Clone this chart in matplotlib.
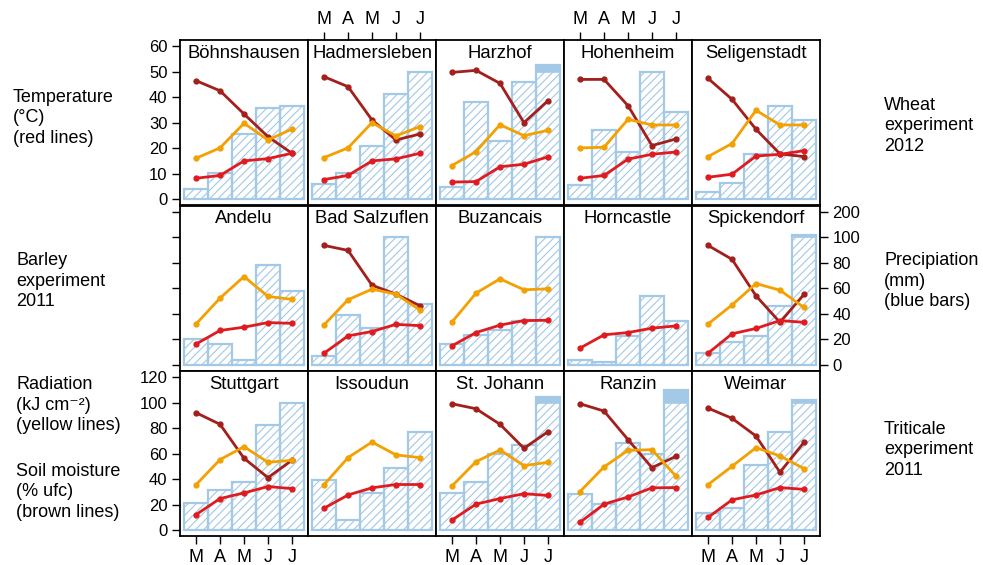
import numpy as np
import matplotlib
matplotlib.use("Agg")
import matplotlib.pyplot as plt

plt.rcParams['font.family'] = ['Liberation Sans', 'DejaVu Sans']
plt.rcParams['hatch.linewidth'] = 0.8

months = ["M", "A", "M", "J", "J"]
x = [1, 2, 3, 4, 5]

rows = [["Böhnshausen", "Hadmersleben", "Harzhof", "Hohenheim", "Seligenstadt"],
        ["Andelu", "Bad Salzuflen", "Buzancais", "Horncastle", "Spickendorf"],
        ["Stuttgart", "Issoudun", "St. Johann", "Ranzin", "Weimar"]]

# precipitation (mm), values above 100 are drawn on the compressed part of the axis
precip = {
    "Böhnshausen": [8.3, 20.9, 51.4, 71.7, 73.0],
    "Hadmersleben": [11.7, 20.3, 42.0, 82.2, 100.0],
    "Harzhof": [9.9, 75.9, 45.4, 91.8, 125.0],
    "Hohenheim": [11.2, 54.3, 36.8, 100.0, 68.1],
    "Seligenstadt": [6.0, 12.3, 35.5, 73.3, 62.1],
    "Andelu": [20.0, 16.1, 3.4, 78.4, 57.4],
    "Bad Salzuflen": [7.0, 38.7, 29.1, 100.5, 47.3],
    "Buzancais": [16.1, 23.4, 27.3, 34.3, 101.0],
    "Horncastle": [3.9, 2.1, 22.6, 54.0, 34.3],
    "Spickendorf": [9.1, 17.7, 22.1, 46.0, 109.0],
    "Stuttgart": [21.4, 31.8, 38.1, 82.4, 100.5],
    "Issoudun": [39.1, 8.1, 29.5, 49.0, 77.2],
    "St. Johann": [29.5, 38.1, 60.0, 66.5, 123.0],
    "Ranzin": [28.7, 20.3, 68.6, 60.0, 148.0],
    "Weimar": [13.8, 17.7, 50.9, 77.0, 112.0],
}

# temperature (deg C)
temp = {
    "Böhnshausen": [8.2, 9.3, 15.0, 15.9, 18.0],
    "Hadmersleben": [7.7, 9.3, 15.0, 15.8, 18.0],
    "Harzhof": [6.7, 6.9, 12.7, 13.7, 16.6],
    "Hohenheim": [8.2, 9.3, 15.7, 17.6, 18.5],
    "Seligenstadt": [8.6, 9.8, 16.9, 17.6, 19.0],
    "Andelu": [8.1, 13.4, 14.7, 16.5, 16.2],
    "Bad Salzuflen": [4.5, 11.3, 13.0, 15.8, 15.3],
    "Buzancais": [7.4, 12.6, 15.5, 17.3, 17.4],
    "Horncastle": [6.5, 11.7, 12.6, 14.3, 15.2],
    "Spickendorf": [4.5, 12.1, 14.2, 17.3, 16.6],
    "Stuttgart": [6.1, 12.4, 14.6, 17.1, 16.3],
    "Issoudun": [8.6, 13.8, 16.6, 17.9, 17.9],
    "St. Johann": [4.0, 10.2, 12.4, 14.3, 13.6],
    "Ranzin": [3.1, 10.2, 13.0, 16.6, 16.7],
    "Weimar": [5.0, 11.9, 13.8, 16.7, 16.0],
}

# radiation (kJ cm-2)
rad = {
    "Böhnshausen": [32.1, 40.2, 59.5, 46.4, 55.0],
    "Hadmersleben": [32.6, 40.2, 60.0, 49.6, 56.9],
    "Harzhof": [26.4, 37.3, 58.4, 49.8, 54.0],
    "Hohenheim": [40.2, 40.7, 62.6, 58.2, 58.2],
    "Seligenstadt": [33.4, 43.6, 69.7, 58.2, 58.2],
    "Andelu": [31.9, 52.2, 69.1, 53.5, 51.2],
    "Bad Salzuflen": [31.2, 50.9, 59.2, 55.3, 42.9],
    "Buzancais": [33.5, 56.1, 67.3, 58.7, 59.5],
    "Spickendorf": [31.9, 46.8, 63.6, 58.4, 44.9],
    "Stuttgart": [35.7, 55.3, 65.5, 53.2, 54.8],
    "Issoudun": [35.7, 56.9, 69.1, 59.0, 56.9],
    "St. Johann": [34.7, 53.7, 62.9, 50.6, 53.2],
    "Ranzin": [30.3, 49.6, 62.6, 63.1, 42.3],
    "Weimar": [35.7, 50.1, 64.7, 58.2, 48.3],
}

# soil moisture (% ufc)
soil = {
    "Böhnshausen": [92.9, 85.0, 66.8, 49.0, 36.0],
    "Hadmersleben": [96.0, 88.2, 62.1, 46.4, 51.1],
    "Harzhof": [99.4, 101.0, 90.8, 60.0, 77.2],
    "Hohenheim": [93.9, 93.9, 73.3, 42.0, 47.2],
    "Seligenstadt": [94.7, 78.3, 54.8, 35.5, 33.4],
    "Bad Salzuflen": [93.5, 89.6, 62.3, 55.3, 46.2],
    "Spickendorf": [93.5, 82.6, 54.0, 33.2, 55.1],
    "Stuttgart": [92.1, 83.0, 56.4, 41.2, 54.8],
    "St. Johann": [99.1, 95.2, 83.0, 64.2, 77.2],
    "Ranzin": [99.1, 93.4, 71.0, 49.0, 57.9],
    "Weimar": [95.7, 87.7, 73.8, 45.4, 68.9],
}

precip_ticks = [0, 20, 40, 60, 80, 100, 200]

blue = '#a3c9e6'
red = '#e01b1f'
orange = '#f2a100'
brown = '#a31f1c'


# axis for precipitation: linear up to 100, compressed 5x above
def fwd(v):
    v = np.asarray(v, dtype=float)
    return np.where(v <= 100, v, 100 + (v - 100) / 5.0)


def inv(u):
    u = np.asarray(u, dtype=float)
    return np.where(u <= 100, u, 100 + (u - 100) * 5.0)


W, H = 983, 565
fig = plt.figure(figsize=(W / 100, H / 100), dpi=100)

x0, pw = 180, 128
tops = [40, 205.5, 371]
ph = 165.3

for r in range(3):
    for c in range(5):
        name = rows[r][c]
        rect = [(x0 + c * pw) / W, 1 - (tops[r] + ph) / H, pw / W, ph / H]
        axp = fig.add_axes(rect)
        axp.set_yscale('function', functions=(fwd, inv))
        axr = axp.twinx()
        axt = axp.twinx()

        p = precip[name]
        axp.bar(x, p, width=1, facecolor='none', edgecolor=blue, hatch='////', lw=1.6)
        for xi, v in zip(x, p):
            if v > 100.5:
                axp.bar(xi, v - 100, bottom=100, width=1, color=blue, edgecolor=blue, lw=1.2)

        if name in soil:
            axr.plot(x, soil[name], color=brown, lw=2, marker='o', ms=3.5)
        if name in rad:
            axr.plot(x, rad[name], color=orange, lw=2, marker='o', ms=3.5)
        axt.plot(x, temp[name], color=red, lw=2, marker='o', ms=3.5)

        axp.set_xlim(0.33, 5.67)
        axp.set_ylim(-4.8, 224)
        axr.set_ylim(-4.8, 124.8)
        axt.set_ylim(-2.4, 62.4)

        for a in (axp, axr, axt):
            a.tick_params(left=False, right=False, top=False, bottom=False,
                          labelleft=False, labelright=False, labeltop=False, labelbottom=False,
                          length=6, width=1, labelsize=12, pad=3)
        for a in (axr, axt):
            for s in a.spines.values():
                s.set_visible(False)
        for s in axp.spines.values():
            s.set_linewidth(1.3)

        axp.set_xticks(x)
        axp.set_xticklabels(months)
        axp.set_yticks(precip_ticks)
        axp.set_yticklabels([str(t) for t in precip_ticks])
        axp.yaxis.set_minor_locator(plt.NullLocator())
        axr.set_yticks(range(0, 121, 20))
        axt.set_yticks(range(0, 61, 10))

        if r == 0 and c in (1, 3):
            axp.tick_params(axis='x', top=True, labeltop=True, labelsize=13)
        if r == 2 and c in (0, 2, 4):
            axp.tick_params(axis='x', bottom=True, labelbottom=True, labelsize=13)
        if c == 0 and r == 0:
            axt.tick_params(axis='y', left=True, labelleft=True)
        if c == 0 and r == 1:
            axp.tick_params(axis='y', left=True)
        if c == 0 and r == 2:
            axr.tick_params(axis='y', left=True, labelleft=True)
        if c == 4 and r == 1:
            axp.tick_params(axis='y', right=True, labelright=True)

        axp.text(0.5, 0.92, name, transform=axp.transAxes, ha='center', va='center',
                 fontsize=13.3, zorder=5)

# side labels
def side(px, py, s):
    fig.text(px / W, 1 - py / H, s, ha='left', va='center', fontsize=13, linespacing=1.25)

side(13, 118, "Temperature\n(°C)\n(red lines)")
side(16, 281, "Barley\nexperiment\n2011")
side(16, 405, "Radiation\n(kJ cm⁻²)\n(yellow lines)")
side(16, 492, "Soil moisture\n(% ufc)\n(brown lines)")
side(884, 126, "Wheat\nexperiment\n2012")
side(884, 281, "Precipiation\n(mm)\n(blue bars)")
side(884, 450, "Triticale\nexperiment\n2011")

fig.savefig("out.png", dpi=100)
